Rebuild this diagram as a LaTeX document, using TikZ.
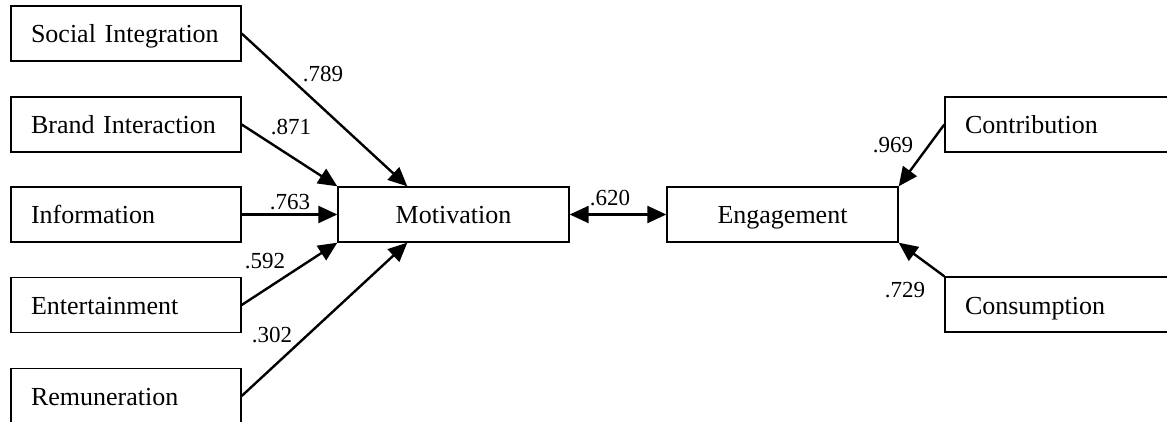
\documentclass[tikz,border=0pt]{standalone}
\usepackage{fontspec}
\setmainfont{Liberation Serif}
\usetikzlibrary{arrows.meta,calc}
\begin{document}
\begin{tikzpicture}[x=1pt,y=-1pt,
  lbox/.style={draw,line width=1.4pt,minimum height=55pt,text width=190pt,text height=24pt,text depth=5pt,inner xsep=20pt,inner ysep=0pt,align=left,font=\fontsize{26}{30}\selectfont},
  cbox/.style={draw,line width=1.4pt,minimum height=55pt,minimum width=231pt,text height=24pt,text depth=5pt,inner sep=0pt,font=\fontsize{26}{30}\selectfont},
  arr/.style={line width=2.4pt,-{Triangle[length=19pt,width=17pt]}},
  darr/.style={line width=2.4pt,{Triangle[length=19pt,width=17pt]}-{Triangle[length=19pt,width=17pt]}},
  coef/.style={inner sep=0pt,font=\fontsize{23}{27}\selectfont}]
\useasboundingbox (0,0) rectangle (1167,422);
\node[lbox] (si) at (126,33.5) {Social Integration};
\node[lbox] (bi) at (126,124.5) {Brand Interaction};
\node[lbox] (inf) at (126,214.5) {Information};
\node[lbox] (ent) at (126,305) {Entertainment};
\node[lbox] (rem) at (126,396) {Remuneration};
\node[cbox] (mot) at (453.5,214.5) {Motivation};
\node[cbox] (eng) at (782.5,214.5) {Engagement};
\node[lbox] (con) at (1060,124.5) {Contribution};
\node[lbox] (cns) at (1060,304.5) {Consumption};
\coordinate (mtop) at ($(mot.north west)+(70,0)$);
\coordinate (mbot) at ($(mot.south west)+(70,0)$);
\draw[arr] (si.east) -- (mtop);
\draw[arr] (bi.east) -- (mot.north west);
\draw[arr] (inf.east) -- (mot.west);
\draw[arr] (ent.east) -- (mot.south west);
\draw[arr] (rem.east) -- (mbot);
\draw[darr] (mot.east) -- (eng.west);
\draw[arr] (con.west) -- (eng.north east);
\draw[arr] (cns.north west) -- (eng.south east);
\node[coef] (l1) at (323,74) {.789};
\node[coef] (l2) at (291,127) {.871};
\node[coef] (l3) at (290,202) {.763};
\node[coef] (l4) at (265,261) {.592};
\node[coef] (l5) at (272,335) {.302};
\node[coef] (l6) at (610,198) {.620};
\node[coef] (l7) at (893,145) {.969};
\node[coef] (l8) at (905,290) {.729};
\end{tikzpicture}
\end{document}
